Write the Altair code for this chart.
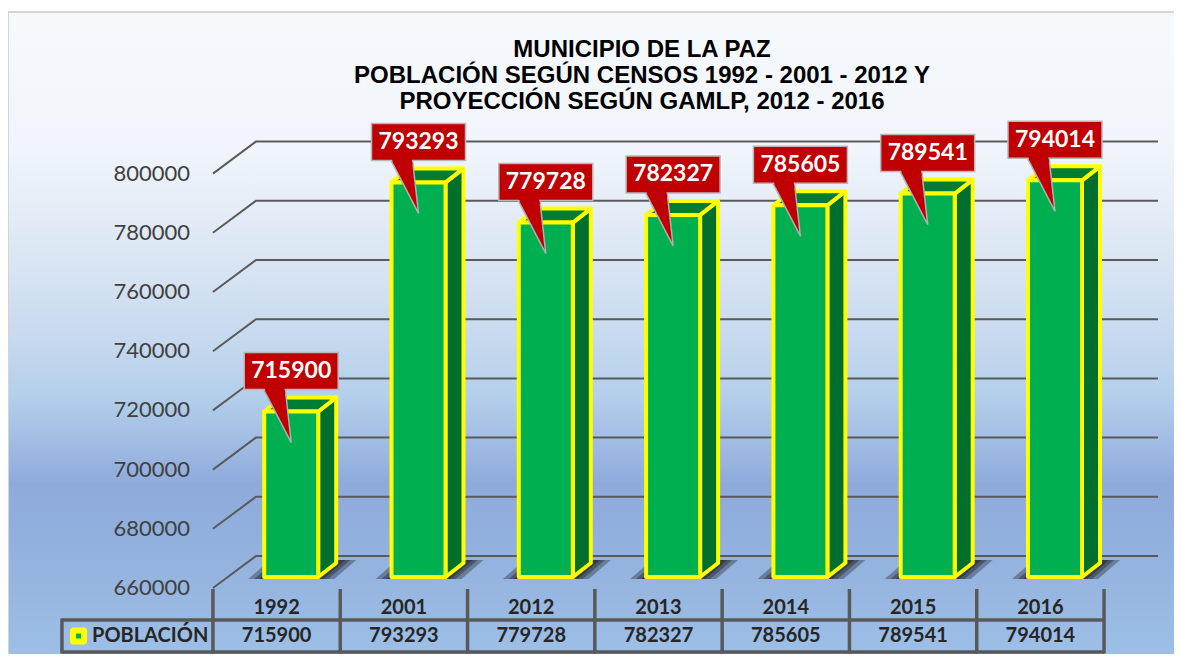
import altair as alt
import pandas as pd

# ---------------- data ----------------
years = ["1992", "2001", "2012", "2013", "2014", "2015", "2016"]
values = [715900, 793293, 779728, 782327, 785605, 789541, 794014]
tick_values = [660000, 680000, 700000, 720000, 740000, 760000, 780000, 800000]
series_name = "POBLACIÓN"
title_lines = [
    "MUNICIPIO  DE LA PAZ",
    "POBLACIÓN SEGÚN CENSOS 1992 - 2001 - 2012 Y",
    "PROYECCIÓN SEGÚN GAMLP, 2012 - 2016",
]

# ---------------- geometry (pixels) ----------------
W, H = 1166, 646
COL_PX = 127.3          # width of one category
X0_PX = 268.6           # view x of category 0 centre
Y_BASE_PX = 580         # view y of axis minimum on front plane
PX_PER_UNIT = 0.00296   # pixels per person
BASE = tick_values[0]

x_lo = -X0_PX / COL_PX
x_hi = (W - X0_PX) / COL_PX
y_hi = BASE + Y_BASE_PX / PX_PER_UNIT
y_lo = BASE - (H - Y_BASE_PX) / PX_PER_UNIT


def dxu(px):
    return px / COL_PX


def dvu(px):
    return px / PX_PER_UNIT


xs = alt.Scale(domain=[x_lo, x_hi], nice=False, zero=False)
ys = alt.Scale(domain=[y_lo, y_hi], nice=False, zero=False)


def X(f="x"):
    return alt.X(f"{f}:Q", scale=xs, axis=None)


def Y(f="y"):
    return alt.Y(f"{f}:Q", scale=ys, axis=None)


FDX, FDY = 14.6, 11.0     # bar front face offset into depth
FW = 54.0                 # bar front width
BDX, BDY = 18.0, 14.0     # bar depth
WDX, WDY = 43.0, 32.0     # wall depth (gridlines)

# ---------------- tables ----------------
front_rows, side_rows, top_rows, shadow_rows = [], [], [], []
box_rows, tail_rows, cover_rows, lab_rows = [], [], [], []
for i, (yr, v) in enumerate(zip(years, values)):
    c = i
    xl = c + dxu(FDX - FW / 2)
    xr = c + dxu(FDX + FW / 2)
    yb = BASE + dvu(FDY)
    yt = v + dvu(FDY)
    front_rows.append(dict(year=yr, x=xl, x2=xr, y=yb, y2=yt))
    side_rows += [
        dict(year=yr, x=xr, y=yt, y2=yb),
        dict(year=yr, x=xr + dxu(BDX), y=yt + dvu(BDY), y2=yb + dvu(BDY)),
    ]
    top_rows += [
        dict(year=yr, y=yt, x=xl, x2=xr),
        dict(year=yr, y=yt + dvu(BDY), x=xl + dxu(BDX), x2=xr + dxu(BDX)),
    ]
    for k, e in enumerate([16, 10, 5]):
        shadow_rows += [
            dict(key=f"{yr}-{k}", y=yb - dvu(2), x=xl - dxu(e), x2=xr + dxu(e)),
            dict(key=f"{yr}-{k}", y=yb + dvu(BDY + 3), x=xl + dxu(BDX + 4 - e),
                 x2=xr + dxu(BDX + 4 + e)),
        ]
    cx = c + dxu(FDX)
    box_rows.append(dict(year=yr, x=cx - dxu(47), x2=cx + dxu(47),
                         y=yt + dvu(22), y2=yt + dvu(59)))
    lab_rows.append(dict(year=yr, x=cx, y=yt + dvu(40.5), label=str(v)))
    tail_rows += [
        dict(year=yr, y=yt + dvu(23), x=cx - dxu(28), x2=cx - dxu(6)),
        dict(year=yr, y=yt - dvu(31), x=cx, x2=cx),
    ]
    cover_rows += [
        dict(year=yr, y=yt + dvu(24), x=cx - dxu(27), x2=cx - dxu(7)),
        dict(year=yr, y=yt + dvu(18), x=cx - dxu(24.5), x2=cx - dxu(5.8)),
    ]

grid_end = (1150 - X0_PX) / COL_PX
grid_rows = []
for t in tick_values:
    grid_rows += [
        dict(t=t, o=0, x=-0.5, y=t),
        dict(t=t, o=1, x=-0.5 + dxu(WDX), y=t + dvu(WDY)),
        dict(t=t, o=2, x=grid_end, y=t + dvu(WDY)),
    ]
ylab_rows = [dict(y=t, label=str(t)) for t in tick_values]

# ---------------- layers ----------------
one = pd.DataFrame({"k": [1]})
grad = alt.Gradient(
    gradient="linear", x1=0, x2=0, y1=0, y2=1,
    stops=[
        alt.GradientStop(offset=0.0, color="#f6f9fc"),
        alt.GradientStop(offset=0.21, color="#f1f5fb"),
        alt.GradientStop(offset=0.37, color="#dce7f4"),
        alt.GradientStop(offset=0.50, color="#c8daef"),
        alt.GradientStop(offset=0.60, color="#b3cfea"),
        alt.GradientStop(offset=0.67, color="#a1bce3"),
        alt.GradientStop(offset=0.735, color="#8eaadb"),
        alt.GradientStop(offset=0.85, color="#93b2de"),
        alt.GradientStop(offset=1.0, color="#9dbfe6"),
    ],
)
bg = alt.Chart(one).mark_rect(color=grad).encode(
    x=alt.value(0), x2=alt.value(W), y=alt.value(4), y2=alt.value(H))
border_l = alt.Chart(one).mark_rule(color="#d4d4d4", strokeWidth=2).encode(
    x=alt.value(0), y=alt.value(4), y2=alt.value(H))
border_t = alt.Chart(one).mark_rule(color="#d4d4d4", strokeWidth=2).encode(
    x=alt.value(0), x2=alt.value(W), y=alt.value(4))

grid = alt.Chart(pd.DataFrame(grid_rows)).mark_line(
    color="#5a5a5a", strokeWidth=2).encode(
    x=X(), y=Y(), detail="t:N", order="o:Q")

ylabels = alt.Chart(pd.DataFrame(ylab_rows)).mark_text(
    font="Lato", fontSize=22, color="#404040", align="right",
    baseline="middle").encode(x=alt.value(182), y=Y(), text="label:N")

title_layers = []
for line, py in zip(title_lines, [42, 68, 93.5]):
    title_layers.append(
        alt.Chart(pd.DataFrame({"line": [line]})).mark_text(
            font="Liberation Sans", fontWeight="bold", fontSize=24,
            color="#000000", align="center", baseline="middle").encode(
            x=alt.value(634), y=alt.value(py), text="line:N"))

shadow = alt.Chart(pd.DataFrame(shadow_rows)).mark_area(
    orient="horizontal", color="#000000", opacity=0.3).encode(
    y=Y(), x=X(), x2=alt.X2("x2:Q"), detail="key:N")

side = alt.Chart(pd.DataFrame(side_rows)).mark_area(
    orient="vertical", color="#006f2d", stroke="#ffff00", strokeWidth=4,
    strokeJoin="round", opacity=1).encode(
    x=X(), y=Y(), y2=alt.Y2("y2:Q"), detail="year:N")

top = alt.Chart(pd.DataFrame(top_rows)).mark_area(
    orient="horizontal", color="#007d33", stroke="#ffff00", strokeWidth=4,
    strokeJoin="round", opacity=1).encode(
    y=Y(), x=X(), x2=alt.X2("x2:Q"), detail="year:N")

front = alt.Chart(pd.DataFrame(front_rows)).mark_rect(
    color="#00b050", stroke="#ffff00", strokeWidth=4, strokeJoin="round").encode(
    x=X(), x2=alt.X2("x2:Q"), y=Y(), y2=alt.Y2("y2:Q"))

tail = alt.Chart(pd.DataFrame(tail_rows)).mark_area(
    orient="horizontal", color="#c00000", stroke="#b0b0b0", strokeWidth=1.5,
    opacity=1).encode(y=Y(), x=X(), x2=alt.X2("x2:Q"), detail="year:N")
box = alt.Chart(pd.DataFrame(box_rows)).mark_rect(
    color="#c00000", stroke="#b8b8b8", strokeWidth=1.5).encode(
    x=X(), x2=alt.X2("x2:Q"), y=Y(), y2=alt.Y2("y2:Q"))
tail_cover = alt.Chart(pd.DataFrame(cover_rows)).mark_area(
    orient="horizontal", color="#c00000", opacity=1).encode(
    y=Y(), x=X(), x2=alt.X2("x2:Q"), detail="year:N")
labels = alt.Chart(pd.DataFrame(lab_rows)).mark_text(
    font="Lato", fontWeight="bold", fontSize=23, color="#ffffff",
    align="center", baseline="middle").encode(x=X(), y=Y(), text="label:N")

# ---------------- data table ----------------
edges = [i - 0.5 for i in range(len(years) + 1)]
c_left = -0.5 - dxu(151)
vlines = alt.Chart(pd.DataFrame(dict(x=edges))).mark_rule(
    color="#595959", strokeWidth=3.5).encode(
    x=X(), y=alt.value(581), y2=alt.value(645.5))
hl_df = pd.DataFrame(dict(x=[c_left], x2=[edges[-1]]))
hline_top = alt.Chart(hl_df).mark_rule(color="#595959", strokeWidth=3.5).encode(
    x=X(), x2=alt.X2("x2:Q"), y=alt.value(612))
hline_bot = alt.Chart(hl_df).mark_rule(color="#595959", strokeWidth=3.5).encode(
    x=X(), x2=alt.X2("x2:Q"), y=alt.value(644))
lline = alt.Chart(pd.DataFrame(dict(x=[c_left]))).mark_rule(
    color="#595959", strokeWidth=3.5).encode(
    x=X(), y=alt.value(610.5), y2=alt.value(645.5))

tab_df = pd.DataFrame(dict(x=list(range(len(years))), year=years,
                           val=[str(v) for v in values]))
year_txt = alt.Chart(tab_df).mark_text(
    font="Lato", fontWeight="bold", fontSize=20, color="#262626",
    baseline="middle").encode(x=X(), y=alt.value(600), text="year:N")
val_txt = alt.Chart(tab_df).mark_text(
    font="Lato", fontWeight="bold", fontSize=20, color="#262626",
    baseline="middle").encode(x=X(), y=alt.value(628), text="val:N")
name_txt = alt.Chart(pd.DataFrame(dict(n=[series_name]))).mark_text(
    font="Lato", fontWeight="bold", fontSize=20, color="#262626",
    align="left", baseline="middle").encode(
    x=alt.value(84), y=alt.value(628), text="n:N")
key_outer = alt.Chart(one).mark_rect(
    color="#ffff00", cornerRadius=3).encode(
    x=alt.value(62), x2=alt.value(79), y=alt.value(619.5), y2=alt.value(636.5))
key_inner = alt.Chart(one).mark_rect(color="#00b050").encode(
    x=alt.value(68), x2=alt.value(73), y=alt.value(625.5), y2=alt.value(630.5))

chart = alt.layer(
    bg, border_l, border_t, grid, ylabels, *title_layers,
    shadow, side, top, front,
    tail, box, tail_cover, labels,
    vlines, hline_top, hline_bot, lline, year_txt, val_txt, name_txt,
    key_outer, key_inner,
).properties(
    width=W, height=H, autosize=alt.AutoSizeParams(type="none"), padding=0,
).configure_view(stroke=None)

chart.save("out.html", embed_options={"renderer": "svg", "actions": False})
